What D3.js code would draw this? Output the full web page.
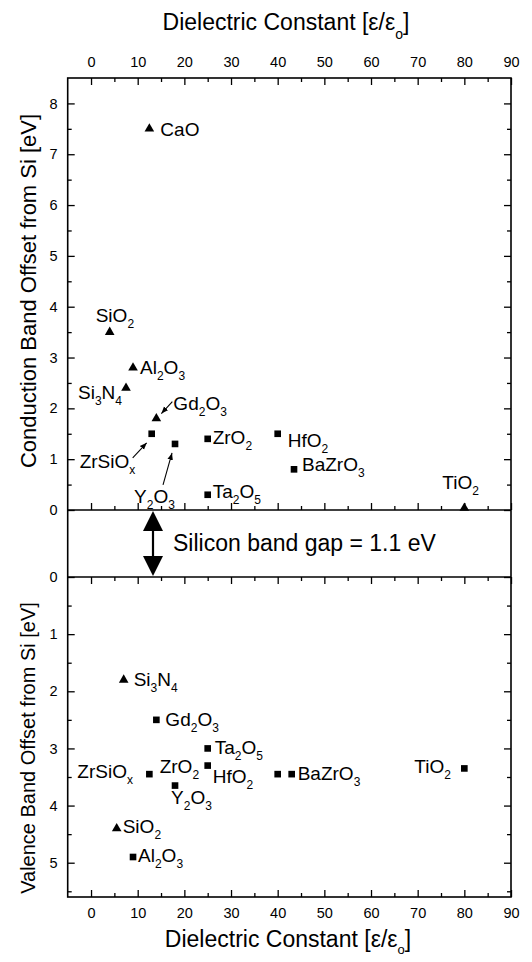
<!DOCTYPE html>
<html>
<head>
<meta charset="utf-8">
<script src="https://cdn.jsdelivr.net/npm/d3@7"></script>
<style>
  body { margin: 0; background: #fff; }
  svg { display: block; font-family: "Liberation Sans", Arial, sans-serif; }
</style>
</head>
<body>
<div id="chart"></div>
<script>
// tick values
const X_MAJOR = d3.range(0, 91, 10);
const X_MINOR = d3.range(5, 90, 10);
const CB_MAJOR = d3.range(0, 9);
const CB_MINOR = d3.range(0.5, 8.5, 1);
const VB_MAJOR = d3.range(0, 6);
const VB_MINOR = d3.range(0.5, 5.6, 1);

// conduction band offsets (upper panel)
const cbNames = ["CaO", "SiO_2", "Al_2O_3", "Si_3N_4", "Gd_2O_3", "ZrSiO_x", "Y_2O_3", "ZrO_2", "Ta_2O_5", "HfO_2", "BaZrO_3", "TiO_2"];
const cbK     = [12.5, 4, 9, 7.5, 14, 13, 18, 25, 25, 40, 43.5, 80];
const cbEV    = [7.5, 3.5, 2.8, 2.4, 1.8, 1.5, 1.3, 1.4, 0.3, 1.5, 0.8, 0.04];
const cbShape = ["tri", "tri", "tri", "tri", "tri", "sq", "sq", "sq", "sq", "sq", "sq", "tri"];

// valence band offsets (lower panel)
const vbNames = ["Si_3N_4", "Gd_2O_3", "Ta_2O_5", "ZrO_2", "ZrSiO_x", "Y_2O_3", "SiO_2", "Al_2O_3", "HfO_2", "BaZrO_3", "TiO_2"];
const vbK     = [7, 14, 25, 25, 12.5, 18, 5.5, 9, 40, 43, 80];
const vbEV    = [1.8, 2.5, 3.0, 3.3, 3.45, 3.65, 4.4, 4.9, 3.45, 3.45, 3.35];
const vbShape = ["tri", "sq", "sq", "sq", "sq", "sq", "tri", "sq", "sq", "sq", "sq"];

// label placement (px offset of text start / baseline from the marker)
const cbLabelOffset = [[11, 7], [-14, -10], [7, 6], [-48, 11], [17, -9], [-72, 34], [-41, 59], [5, 5], [5, 3], [10, 13], [8, 2], [-22, -19]];
const vbLabelOffset = [[10, 6], [9, 6], [7, 6], [-48, 7], [-72, 4], [-4, 18], [6, 5], [5, 5], [-65, 9], [6, 6], [-50, 5]];

// leader arrows in upper panel: [index, startDx, startDy, endDx, endDy]
const cbArrows = [[4, 16, -17, 5, -5], [5, -19, 24, -5, 9], [6, -12, 41, -3, 9]];

const W = 532, H = 962;
const LABEL_SIZE = 19, SUB_SIZE = 12, SUB_DY = 6;

const svg = d3.select("#chart").append("svg")
  .attr("width", W)
  .attr("height", H);

svg.append("defs").append("marker")
  .attr("id", "head")
  .attr("viewBox", "0 0 10 10")
  .attr("refX", 10).attr("refY", 5)
  .attr("markerWidth", 7).attr("markerHeight", 7)
  .attr("markerUnits", "userSpaceOnUse")
  .attr("orient", "auto")
  .append("path")
  .attr("d", "M0,1 L10,5 L0,9 Z")
  .attr("fill", "#000");

const x = d3.scaleLinear().domain([-5, 90]).range([67.7, 511]);
const yC = d3.scaleLinear().domain([0, 8.5]).range([510, 78]);
const yV = d3.scaleLinear().domain([0, 5.6]).range([577, 897]);

const left = x.range()[0], right = x.range()[1];

// text with "_c" subscripts
function addFormula(sel, name, subSize, subDy) {
  const tokens = name.match(/_.|[^_]+/g);
  let down = false;
  tokens.forEach(t => {
    const isSub = t[0] === "_";
    const ts = sel.append("tspan").text(isSub ? t.slice(1) : t);
    if (isSub) {
      ts.attr("font-size", subSize);
      if (!down) { ts.attr("dy", subDy); down = true; }
    } else if (down) {
      ts.attr("dy", -subDy);
      down = false;
    }
  });
}

function styleAxis(g) {
  g.select(".domain").remove();
  g.selectAll("line").attr("stroke", "#000").attr("stroke-width", 1.3);
  g.selectAll("text").attr("fill", "#000").attr("font-size", 14.5)
    .attr("font-family", "Liberation Sans, Arial, sans-serif");
}

// horizontal axes
function xAxis(gen, y, labels) {
  svg.append("g").attr("transform", `translate(0,${y})`)
    .call(gen(x).tickValues(X_MAJOR).tickSize(-7).tickPadding(labels ? 11 : 0)
      .tickFormat(labels ? d3.format("d") : ""))
    .call(styleAxis);
  svg.append("g").attr("transform", `translate(0,${y})`)
    .call(gen(x).tickValues(X_MINOR).tickSize(-4).tickFormat(""))
    .call(styleAxis);
}
xAxis(d3.axisTop, yC.range()[1], true);
xAxis(d3.axisBottom, yC(0), false);
xAxis(d3.axisTop, yV(0), false);
xAxis(d3.axisBottom, yV.range()[1], true);

// vertical axes
function yAxis(y, major, minor) {
  svg.append("g").attr("transform", `translate(${left},0)`)
    .call(d3.axisLeft(y).tickValues(major).tickSize(-7).tickPadding(10).tickFormat(d3.format("d")))
    .call(styleAxis);
  svg.append("g").attr("transform", `translate(${left},0)`)
    .call(d3.axisLeft(y).tickValues(minor).tickSize(-4).tickFormat(""))
    .call(styleAxis);
  svg.append("g").attr("transform", `translate(${right},0)`)
    .call(d3.axisRight(y).tickValues(major).tickSize(-7).tickFormat(""))
    .call(styleAxis);
  svg.append("g").attr("transform", `translate(${right},0)`)
    .call(d3.axisRight(y).tickValues(minor).tickSize(-4).tickFormat(""))
    .call(styleAxis);
}
yAxis(yC, CB_MAJOR, CB_MINOR);
yAxis(yV, VB_MAJOR, VB_MINOR);

// frame
const frame = svg.append("g").attr("fill", "none").attr("stroke", "#000").attr("stroke-width", 1.6);
frame.append("rect")
  .attr("x", left).attr("y", yC.range()[1])
  .attr("width", right - left).attr("height", yV.range()[1] - yC.range()[1]);
frame.append("line").attr("x1", left).attr("x2", right).attr("y1", yC(0)).attr("y2", yC(0));
frame.append("line").attr("x1", left).attr("x2", right).attr("y1", yV(0)).attr("y2", yV(0));

// markers
const triangle = d3.symbol().type(d3.symbolTriangle).size(40);
const square = d3.symbol().type(d3.symbolSquare).size(44);

function drawPanel(y, names, ks, evs, shapes, offsets) {
  const data = names.map((n, i) => ({ name: n, k: ks[i], ev: evs[i], shape: shapes[i], off: offsets[i] }));
  const g = svg.append("g");
  g.selectAll("path.pt")
    .data(data)
    .join("path")
    .attr("class", "pt")
    .attr("transform", d => `translate(${x(d.k)},${y(d.ev)})`)
    .attr("d", d => d.shape === "tri" ? triangle() : square())
    .attr("fill", "#000");
  g.selectAll("text.lbl")
    .data(data)
    .join("text")
    .attr("class", "lbl")
    .attr("x", d => x(d.k) + d.off[0])
    .attr("y", d => y(d.ev) + d.off[1])
    .attr("font-size", LABEL_SIZE)
    .attr("fill", "#000")
    .each(function (d) { addFormula(d3.select(this), d.name, SUB_SIZE, SUB_DY); });
  return data;
}

const cbData = drawPanel(yC, cbNames, cbK, cbEV, cbShape, cbLabelOffset);
drawPanel(yV, vbNames, vbK, vbEV, vbShape, vbLabelOffset);

// leader arrows
svg.append("g").selectAll("line")
  .data(cbArrows)
  .join("line")
  .attr("x1", a => x(cbData[a[0]].k) + a[1])
  .attr("y1", a => yC(cbData[a[0]].ev) + a[2])
  .attr("x2", a => x(cbData[a[0]].k) + a[3])
  .attr("y2", a => yC(cbData[a[0]].ev) + a[4])
  .attr("stroke", "#000")
  .attr("stroke-width", 1.1)
  .attr("marker-end", "url(#head)");

// silicon band gap arrow
const gapX = 153, gapTop = yC(0) + 1, gapBot = yV(0) - 1;
const gap = svg.append("g");
gap.append("line")
  .attr("x1", gapX).attr("x2", gapX)
  .attr("y1", gapTop + 15).attr("y2", gapBot - 15)
  .attr("stroke", "#000").attr("stroke-width", 2.2);
gap.append("path")
  .attr("d", `M${gapX},${gapTop} L${gapX - 10},${gapTop + 20} L${gapX + 10},${gapTop + 20} Z`)
  .attr("fill", "#000");
gap.append("path")
  .attr("d", `M${gapX},${gapBot} L${gapX - 10},${gapBot - 20} L${gapX + 10},${gapBot - 20} Z`)
  .attr("fill", "#000");
gap.append("text")
  .attr("x", 173).attr("y", 551)
  .attr("font-size", 23)
  .text("Silicon band gap = 1.1 eV");

// axis titles
const titleTop = svg.append("text")
  .attr("x", 286).attr("y", 30)
  .attr("text-anchor", "middle")
  .attr("font-size", 23);
addFormula(titleTop, "Dielectric Constant [ε/ε_o]", 14, 9);

const titleBottom = svg.append("text")
  .attr("x", 288).attr("y", 947)
  .attr("text-anchor", "middle")
  .attr("font-size", 23);
addFormula(titleBottom, "Dielectric Constant [ε/ε_o]", 13, 7);

svg.append("text")
  .attr("transform", `translate(36,291) rotate(-90)`)
  .attr("text-anchor", "middle")
  .attr("font-size", 22)
  .text("Conduction Band Offset from Si [eV]");

svg.append("text")
  .attr("transform", `translate(35,748) rotate(-90)`)
  .attr("text-anchor", "middle")
  .attr("font-size", 20)
  .text("Valence Band Offset from Si [eV]");
</script>
</body>
</html>
